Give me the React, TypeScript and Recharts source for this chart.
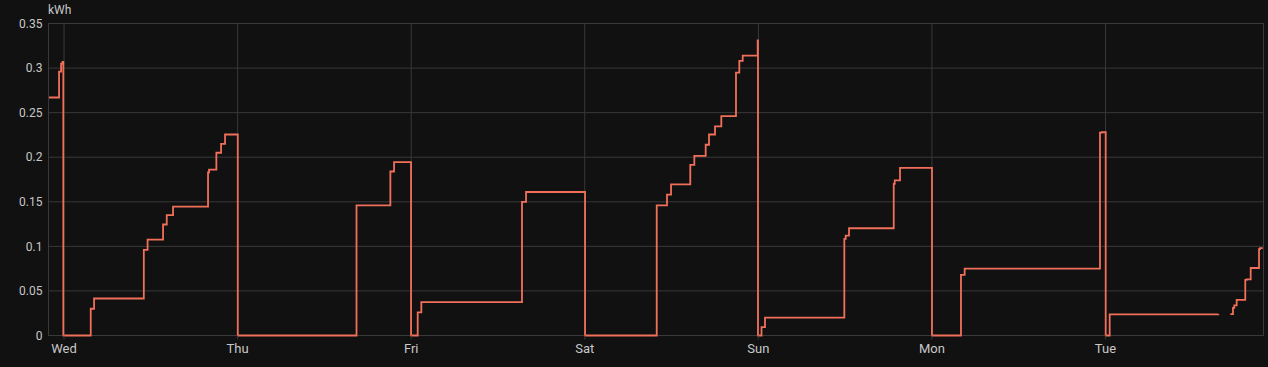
import { LineChart, Line, XAxis, YAxis, CartesianGrid, ReferenceLine } from "recharts"

// hours since Wed 00:00 and the reading that starts at that time (null = no data)
const hours = [
  -2.15, -0.69, -0.41, -0.21, -0.1, 3.69, 4.15, 11.03, 11.55, 13.69, 14.2, 15.07, 19.91, 20.05,
  21.06, 21.71, 22.26, 24.02, 40.44, 45.12, 45.63, 47.98, 48.9, 49.4, 63.32, 63.88, 72.04, 81.95,
  83.37, 83.93, 86.59, 87.15, 88.72, 89.18, 90.01, 90.88, 92.91, 93.37, 93.84, 95.91, 95.95, 96.44,
  96.92, 107.89, 108.08, 108.54, 114.72, 114.86, 115.59, 120.01, 124.02, 124.53, 143.24, 143.48,
  144.03, 144.58, 159.6, 159.9, 161.26, 161.63, 161.81, 162.14, 163.33, 163.52, 164.08, 165.23,
  165.37, 165.74,
]
const kwh = [
  0.267, 0.296, 0.305, 0.307, 0, 0.03, 0.0415, 0.096, 0.1075, 0.1245, 0.135, 0.1445, 0.183, 0.186,
  0.205, 0.215, 0.2255, 0, 0.146, 0.184, 0.1945, 0, 0.026, 0.0375, 0.15, 0.161, 0, 0.146,
  0.158, 0.1695, 0.1915, 0.2015, 0.214, 0.2255, 0.2345, 0.246, 0.295, 0.308, 0.314, 0.331, 0, 0.0093,
  0.02, 0.1085, 0.112, 0.1203, 0.17, 0.174, 0.188, 0, 0.068, 0.075, 0.2275, 0.228,
  0, 0.0237, 0.024, null, 0.024, 0.031, 0.0337, 0.04, 0.0625, 0.063, 0.0757, 0.0968,
  0.098, 0.098,
]
const dayTicks = [0, 24, 48, 72, 96, 120, 144]
const dayLabels = ["Wed", "Thu", "Fri", "Sat", "Sun", "Mon", "Tue"]
const yTicks = [0, 0.05, 0.1, 0.15, 0.2, 0.25, 0.3, 0.35]

const X_MIN = -2.15
const X_MAX = 165.85

const data = hours.map((t, i) => ({ t, v: kwh[i] }))

const GRID = "#393939"
const TEXT = "#c8c8c8"

export default function App() {
  return (
    <div
      style={{
        position: "absolute",
        left: 0,
        top: 0,
        width: 1268,
        height: 367,
        background: "#111111",
        fontFamily: "Roboto, sans-serif",
      }}
    >
      <div style={{ position: "absolute", left: 48, top: 3, fontSize: 12, color: TEXT }}>kWh</div>
      <LineChart width={1268} height={367} data={data} margin={{ top: 23.5, right: 4.5, bottom: 0, left: 0 }}>
        <CartesianGrid stroke={GRID} />
        <XAxis
          dataKey="t"
          type="number"
          domain={[X_MIN, X_MAX]}
          ticks={dayTicks}
          tickFormatter={(t: number) => dayLabels[dayTicks.indexOf(t)]}
          allowDataOverflow
          height={31.5}
          axisLine={false}
          tickLine={{ stroke: GRID }}
          tickSize={4}
          tickMargin={4.5}
          tick={{ fill: TEXT, fontSize: 13 }}
        />
        <YAxis
          type="number"
          domain={[0, 0.35]}
          ticks={yTicks}
          width={48.5}
          axisLine={{ stroke: GRID }}
          tickLine={false}
          tickSize={0}
          tickMargin={6}
          tick={{ fill: TEXT, fontSize: 12 }}
        />
        <ReferenceLine x={X_MAX} stroke={GRID} />
        <Line
          dataKey="v"
          type="stepAfter"
          stroke="#f2705a"
          strokeWidth={1.8}
          dot={false}
          activeDot={false}
          connectNulls={false}
          isAnimationActive={false}
        />
      </LineChart>
    </div>
  )
}
